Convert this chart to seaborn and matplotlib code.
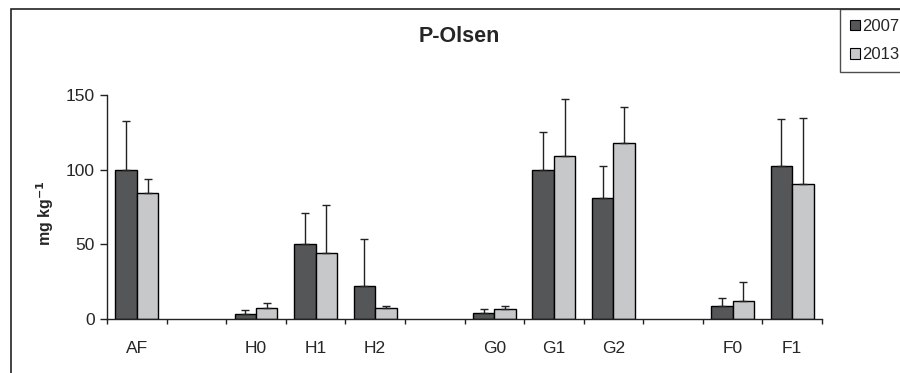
"""
P-Olsen bar chart, 2007 vs 2013, with upward error bars
"""

import pandas as pd
import numpy as np
import matplotlib.pyplot as plt
import seaborn as sns
from matplotlib.patches import Patch, Rectangle

sns.set_style("white")
plt.rcParams['font.family'] = ['Liberation Sans', 'DejaVu Sans']

# Data
sites = ['AF', 'H0', 'H1', 'H2', 'G0', 'G1', 'G2', 'F0', 'F1']
order = ['AF', ' ', 'H0', 'H1', 'H2', '  ', 'G0', 'G1', 'G2', '   ', 'F0', 'F1']
mean_2007 = [100, 3.1, 50, 22.3, 3.8, 99.6, 81.3, 8.5, 102.7]
sd_2007 = [32.6, 2.9, 21.2, 31.3, 2.9, 25.7, 21.2, 5.8, 31.3]
mean_2013 = [84.2, 7.6, 44.4, 7.6, 6.5, 109, 118.1, 12.1, 90.6]
sd_2013 = [9.6, 3.4, 32.2, 1.1, 2.0, 38.6, 23.9, 12.9, 44.2]
years = ['2007', '2013']
colors = {'2007': '#545658', '2013': '#c7c8ca'}

df = pd.DataFrame({
    'site': sites * 2,
    'year': ['2007'] * len(sites) + ['2013'] * len(sites),
    'value': mean_2007 + mean_2013,
    'sd': sd_2007 + sd_2013,
})

fig = plt.figure(figsize=(9, 3.73), dpi=100)
ax = fig.add_axes([107 / 900, 1 - 319 / 373, 715 / 900, 224 / 373])

sns.barplot(data=df, x='site', y='value', hue='year', order=order,
            hue_order=years, palette=colors, edgecolor='black', linewidth=1,
            width=0.72, errorbar=None, legend=False, ax=ax)

# upward-only error bars at each bar
sd_lookup = {(s, y): v for s, y, v in zip(df['site'], df['year'], df['sd'])}
for year, container in zip(years, ax.containers):
    for bar in container:
        xc = bar.get_x() + bar.get_width() / 2
        site = order[int(round(xc))]
        if (site, year) not in sd_lookup:
            continue
        ax.errorbar(xc, bar.get_height(), yerr=[[0], [sd_lookup[(site, year)]]],
                    fmt='none', ecolor='#222222', elinewidth=1, capsize=3.2,
                    capthick=1)

ax.set_xlim(-0.5, len(order) - 0.5)
ax.set_ylim(0, 150)
ax.set_yticks([0, 50, 100, 150])
ax.set_xlabel('')
ax.set_ylabel('')

sns.despine(ax=ax)
for side in ['left', 'bottom']:
    ax.spines[side].set_color('#222222')
    ax.spines[side].set_linewidth(1)

ax.tick_params(axis='y', which='major', length=5, width=1, pad=4,
               labelsize=12.5, color='#222222', left=True)
ax.tick_params(axis='x', which='major', length=0, pad=16, labelsize=12.5)
ax.set_xticks(np.arange(-0.5, len(order), 1), minor=True)
ax.tick_params(axis='x', which='minor', length=3.5, width=1,
               color='#222222', bottom=True)

fig.text(459 / 900, 1 - 37 / 373, 'P-Olsen', ha='center', va='center',
         fontsize=15.5, fontweight='bold')
fig.text(45 / 900, 1 - 213 / 373, r'mg kg$^{\mathbf{-1}}$', ha='center',
         va='center', rotation=90, fontsize=11.5, fontweight='bold')

# outer frame, cut by the image edges on the right and bottom
fig.patches.append(Rectangle((11 / 900, -0.2), 1.2, 1 - 9 / 373 + 0.2,
                             transform=fig.transFigure, fill=False,
                             edgecolor='#222222', linewidth=1.2))

handles = [Patch(facecolor=colors[y], edgecolor='black', linewidth=0.8, label=y)
           for y in years]
leg = fig.legend(handles=handles, loc='upper left',
                 bbox_to_anchor=(840 / 900, 1 - 9 / 373), borderaxespad=0,
                 fancybox=False, frameon=True, fontsize=12, handlelength=0.6,
                 handleheight=0.6, handletextpad=0.15, labelspacing=0.8,
                 borderpad=0.6)
leg.get_frame().set_edgecolor('#222222')
leg.get_frame().set_linewidth(1)

plt.savefig('out.png', dpi=100)
plt.close()
